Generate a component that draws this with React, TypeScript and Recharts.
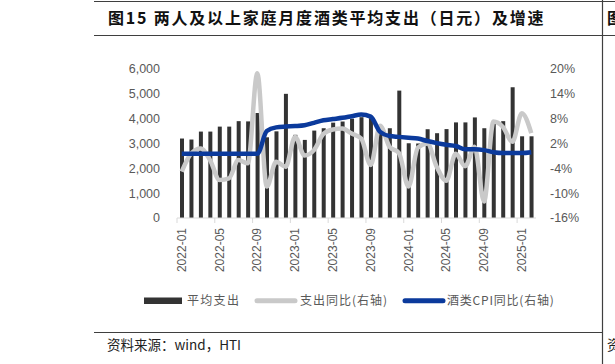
import React from 'react';
import { ComposedChart, Bar, Line, XAxis, YAxis } from 'recharts';

const months = [
  '2022-01', '2022-02', '2022-03', '2022-04', '2022-05', '2022-06', '2022-07', '2022-08', '2022-09', '2022-10', '2022-11', '2022-12',
  '2023-01', '2023-02', '2023-03', '2023-04', '2023-05', '2023-06', '2023-07', '2023-08', '2023-09', '2023-10', '2023-11', '2023-12',
  '2024-01', '2024-02', '2024-03', '2024-04', '2024-05', '2024-06', '2024-07', '2024-08', '2024-09', '2024-10', '2024-11', '2024-12',
  '2025-01', '2025-02',
];

const avgSpend = [
  3200, 3160, 3480, 3480, 3680, 3680, 3900, 3890, 4230, 3250, 3490, 5000,
  3350, 3145, 3520, 3615, 3840, 3885, 4000, 4060, 4020, 3680, 3615, 5130,
  3010, 3000, 3575, 3415, 3580, 3850, 3850, 4050, 3615, 3900, 3900, 5270,
  3290, 3290,
];

const spendYoY = [
  -4.8, -0.4, 0.8, -2.0, -6.8, -6.4, -2.0, -2.8, 19.0, -8.4, -2.4, -3.6,
  3.6, -0.9, 0.4, 4.3, 5.4, 5.6, 4.4, 3.2, -3.2, 6.3, 1.2, -0.3,
  -8.4, 1.0, 2.0, -3.7, -7.0, -0.5, -3.5, 1.2, -12.0, 7.3, 6.0, 2.4,
  9.3, 4.5,
];

const cpiYoY = [
  -0.5, -0.5, -0.5, -0.5, -0.5, -0.5, -0.5, -0.5, -0.5, 5.0, 5.9, 6.1,
  6.2, 6.4, 7.0, 7.6, 7.9, 8.2, 8.6, 9.0, 8.5, 4.8, 3.8, 3.6,
  3.4, 3.2, 2.6, 2.1, 1.7, 1.4, 0.6, 0.6, 0.4, -0.1, -0.3, -0.3,
  -0.3, -0.1,
];

const leftTicks = [0, 1000, 2000, 3000, 4000, 5000, 6000];
const rightTicks = [-16, -10, -4, 2, 8, 14, 20];

const titleText = '图15 两人及以上家庭月度酒类平均支出（日元）及增速';
const sourceText = '资料来源：wind，HTI';
const legendNames = ['平均支出', '支出同比(右轴)', '酒类CPI同比(右轴)'];

const data = months.map((m, i) => ({
  month: m,
  spend: avgSpend[i],
  yoy: spendYoY[i],
  cpi: cpiYoY[i],
}));

const BAR_COLOR = '#333333';
const GRAY_COLOR = '#C9C9C9';
const BLUE_COLOR = '#0B3A9C';
const TEXT_COLOR = '#595959';
const AXIS_FONT = '"Liberation Sans", Arial, sans-serif';
const CJK_FONT = '"Noto Sans CJK SC", sans-serif';

const PLOT_LEFT = 177;
const PLOT_RIGHT = 536;
const PLOT_TOP = 69;
const PLOT_BOTTOM = 218;
const HALF_STEP = (PLOT_RIGHT - PLOT_LEFT) / months.length / 2;

function XTick(props: any) {
  const { x, payload } = props;
  const tx = x - HALF_STEP;
  const ty = PLOT_BOTTOM + 10;
  return (
    <g>
      <line x1={tx} x2={tx} y1={PLOT_BOTTOM} y2={PLOT_BOTTOM + 5} stroke="#D9D9D9" strokeWidth={1} />
      <text
        x={x}
        y={ty}
        transform={`rotate(-90, ${x}, ${ty})`}
        textAnchor="end"
        dy="0.35em"
        fill={TEXT_COLOR}
        fontSize={12}
        fontFamily={AXIS_FONT}
      >
        {payload.value}
      </text>
    </g>
  );
}

export default function App() {
  return (
    <div
      style={{
        position: 'absolute',
        left: 0,
        top: 0,
        width: 615,
        height: 364,
        overflow: 'hidden',
        background: '#ffffff',
      }}
    >
      <div style={{ position: 'absolute', left: 0, top: 0 }}>
        <ComposedChart
          width={615}
          height={280}
          data={data}
          margin={{ top: PLOT_TOP, right: 615 - PLOT_RIGHT - 50, bottom: 0, left: PLOT_LEFT - 60 }}
          barCategoryGap={0}
        >
          <XAxis
            dataKey="month"
            height={62}
            interval={3}
            tickLine={false}
            axisLine={{ stroke: '#D9D9D9', strokeWidth: 1 }}
            tick={<XTick />}
          />
          <YAxis
            yAxisId="left"
            orientation="left"
            width={60}
            domain={[0, 6000]}
            ticks={leftTicks}
            tickFormatter={(v: number) => v.toLocaleString('en-US')}
            axisLine={false}
            tickLine={false}
            tickMargin={11}
            tick={{ fill: TEXT_COLOR, fontSize: 12.5, fontFamily: AXIS_FONT }}
          />
          <YAxis
            yAxisId="right"
            orientation="right"
            width={50}
            domain={[-16, 20]}
            ticks={rightTicks}
            tickFormatter={(v: number) => `${v}%`}
            axisLine={false}
            tickLine={false}
            tickMargin={8}
            tick={{ fill: TEXT_COLOR, fontSize: 12.5, fontFamily: AXIS_FONT, textAnchor: 'start' }}
          />
          <Bar yAxisId="left" dataKey="spend" fill={BAR_COLOR} barSize={4} isAnimationActive={false} />
          <Line
            yAxisId="right"
            dataKey="yoy"
            type="monotone"
            stroke={GRAY_COLOR}
            strokeWidth={4.5}
            dot={false}
            activeDot={false}
            isAnimationActive={false}
          />
          <Line
            yAxisId="right"
            dataKey="cpi"
            type="monotone"
            stroke={BLUE_COLOR}
            strokeWidth={4.5}
            dot={false}
            activeDot={false}
            isAnimationActive={false}
          />
        </ComposedChart>
      </div>
      <svg
        width={615}
        height={364}
        style={{ position: 'absolute', left: 0, top: 0, pointerEvents: 'none' }}
      >
        {/* frame lines */}
        <line x1={94} x2={615} y1={1.5} y2={1.5} stroke="#3F3F3F" strokeWidth={1.2} />
        <line x1={94} x2={615} y1={35.5} y2={35.5} stroke="#3F3F3F" strokeWidth={1.2} />
        <line x1={94} x2={602} y1={332.5} y2={332.5} stroke="#3F3F3F" strokeWidth={1.2} />
        <line x1={602.5} x2={602.5} y1={0} y2={364} stroke="#3F3F3F" strokeWidth={1.2} />
        {/* title */}
        <text
          x={108}
          y={18}
          dy="0.35em"
          fontSize={16}
          fontWeight="bold"
          letterSpacing={1.8}
          fontFamily={CJK_FONT}
          fill="#111111"
        >
          {titleText}
        </text>
        <text x={607} y={18} dy="0.35em" fontSize={16} fontWeight="bold" fontFamily={CJK_FONT} fill="#111111">
          图
        </text>
        {/* legend */}
        <rect x={144} y={297.5} width={38} height={6.5} fill={BAR_COLOR} />
        <text x={187} y={300.7} dy="0.35em" fontSize={12} letterSpacing={1.3} fontFamily={CJK_FONT} fill={TEXT_COLOR}>
          {legendNames[0]}
        </text>
        <line x1={257} x2={295} y1={300.7} y2={300.7} stroke={GRAY_COLOR} strokeWidth={5} strokeLinecap="round" />
        <text x={300} y={300.7} dy="0.35em" fontSize={12} letterSpacing={1} fontFamily={CJK_FONT} fill={TEXT_COLOR}>
          {legendNames[1]}
        </text>
        <line x1={405} x2={443} y1={300.7} y2={300.7} stroke={BLUE_COLOR} strokeWidth={5} strokeLinecap="round" />
        <text x={447} y={300.7} dy="0.35em" fontSize={12} letterSpacing={0.8} fontFamily={CJK_FONT} fill={TEXT_COLOR}>
          {legendNames[2]}
        </text>
        {/* source */}
        <text x={107} y={345} dy="0.35em" fontSize={13.5} fontFamily={CJK_FONT} fill="#222222">
          {sourceText}
        </text>
        <text x={607} y={345} dy="0.35em" fontSize={13.5} fontFamily={CJK_FONT} fill="#222222">
          资
        </text>
      </svg>
    </div>
  );
}
